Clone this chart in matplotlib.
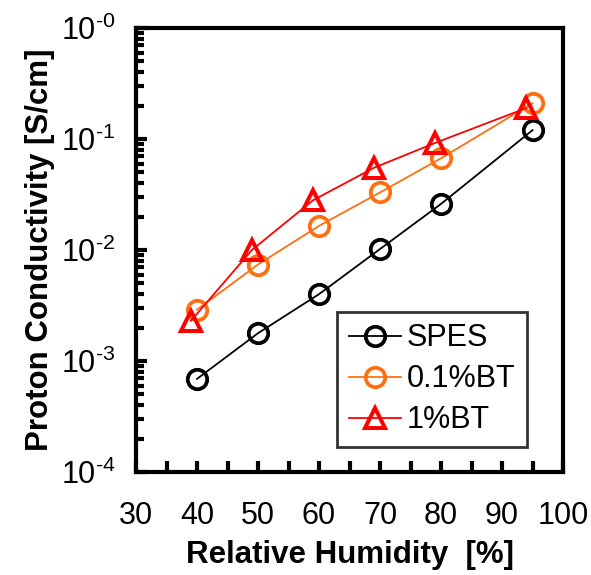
import matplotlib
matplotlib.use("Agg")
from matplotlib import pyplot as plt
from matplotlib.ticker import LogLocator, MultipleLocator, FixedLocator, NullFormatter

plt.rcParams['font.family'] = ['Liberation Sans', 'DejaVu Sans']
plt.rcParams['mathtext.fontset'] = 'custom'
plt.rcParams['mathtext.rm'] = 'Liberation Sans'

# data
rh_spes = [40, 50, 60, 70, 80, 95]
spes = [6.9e-4, 1.78e-3, 4.0e-3, 1.02e-2, 2.6e-2, 0.12]
rh_01bt = [40, 50, 60, 70, 80, 95]
bt01 = [2.9e-3, 7.4e-3, 1.65e-2, 3.3e-2, 6.7e-2, 0.21]
rh_1bt = [39, 49, 59, 69, 79, 94]
bt1 = [2.3e-3, 1.0e-2, 2.8e-2, 5.5e-2, 9.2e-2, 0.19]

x_ticks = [30, 40, 50, 60, 70, 80, 90, 100]
y_ticks = [1e-4, 1e-3, 1e-2, 1e-1, 1e0]
y_labels = ['10$^{\\text{-4}}$', '10$^{\\text{-3}}$', '10$^{\\text{-2}}$',
            '10$^{\\text{-1}}$', '10$^{\\text{-0}}$']

fig = plt.figure(figsize=(5.91, 5.75), dpi=100)
ax = fig.add_axes([136 / 591, 1 - 472 / 575, 427 / 591, 444 / 575])

ax.plot(rh_spes, spes, '-o', color='black', lw=1.3, ms=14, mfc='none', mew=2.7, label='SPES')
ax.plot(rh_01bt, bt01, '-o', color='#FF6F0F', lw=1.3, ms=14, mfc='none', mew=2.7, label='0.1%BT')
ax.plot(rh_1bt, bt1, '-^', color='#FF0000', lw=1.3, ms=15, mfc='none', mew=2.9, label='1%BT')

ax.set_yscale('log')
ax.set_xlim(30, 100)
ax.set_ylim(1e-4, 1e0)
ax.xaxis.set_major_locator(FixedLocator(x_ticks))
ax.xaxis.set_minor_locator(MultipleLocator(5))
ax.yaxis.set_major_locator(FixedLocator(y_ticks))
ax.set_yticklabels(y_labels)
ax.yaxis.set_minor_locator(LogLocator(base=10, subs=range(2, 10)))
ax.yaxis.set_minor_formatter(NullFormatter())

for s in ax.spines.values():
    s.set_linewidth(3)
ax.tick_params(which='both', direction='in', width=3, labelsize=22)
ax.tick_params(axis='x', pad=21)
ax.tick_params(axis='y', pad=15)
ax.tick_params(which='major', length=8)
ax.tick_params(which='minor', length=6)
ax.tick_params(axis='x', which='minor', length=8)
ax.tick_params(top=False, right=False)

ax.set_xlabel('Relative Humidity  [%]', fontsize=22.5, fontweight='bold', labelpad=6)
ax.set_ylabel('Proton Conductivity [S/cm]', fontsize=22.5, fontweight='bold', labelpad=4)

leg = ax.legend(loc='lower right', bbox_to_anchor=((527 - 136) / 427, (472 - 447) / 444),
                fontsize=22, frameon=True, fancybox=False, edgecolor='black',
                handlelength=1.7, handletextpad=0.2, borderpad=0.38, labelspacing=0.36,
                borderaxespad=0)
leg.get_frame().set_linewidth(2)

fig.savefig('out.png', dpi=100)
